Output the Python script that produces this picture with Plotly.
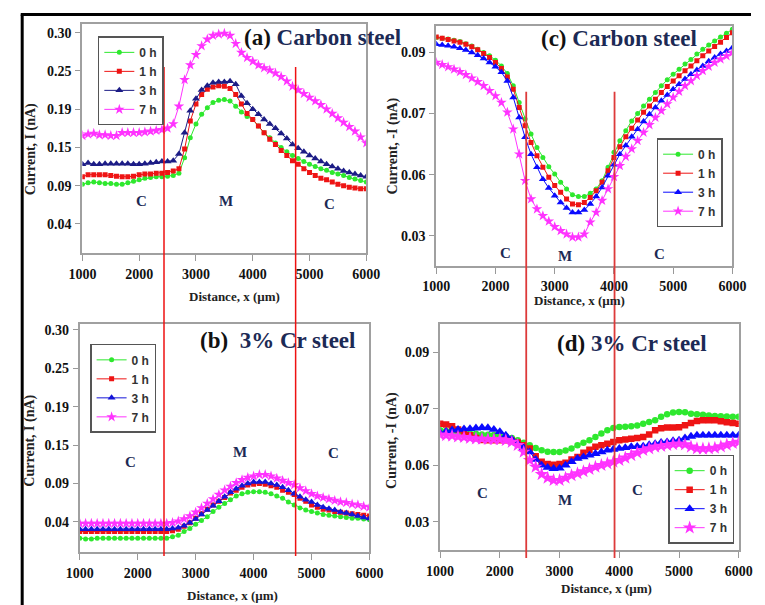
import plotly.graph_objects as go

W, H = 765, 605

DIST = [1000 + 100 * i for i in range(51)]
SERIES_NAMES = ["0 h", "1 h", "3 h", "7 h"]

# (a) Carbon steel, anodic current (axis in visual units; tick labels below)
a_0h = [0.094,0.096,0.097,0.096,0.095,0.095,0.094,0.094,0.096,0.098,
        0.100,0.102,0.103,0.104,0.104,0.105,0.106,0.109,0.130,0.157,
        0.176,0.189,0.198,0.205,0.208,0.209,0.207,0.200,0.192,0.186,
        0.182,0.173,0.164,0.157,0.150,0.144,0.138,0.133,0.129,0.125,
        0.121,0.118,0.115,0.113,0.110,0.108,0.106,0.103,0.101,0.099,
        0.097]
a_1h = [0.104,0.107,0.107,0.107,0.107,0.106,0.105,0.104,0.104,0.105,
        0.107,0.108,0.108,0.109,0.109,0.110,0.112,0.115,0.142,0.180,
        0.203,0.216,0.223,0.226,0.228,0.227,0.224,0.216,0.203,0.190,
        0.182,0.173,0.164,0.155,0.148,0.140,0.133,0.126,0.121,0.115,
        0.110,0.106,0.102,0.100,0.097,0.094,0.092,0.090,0.089,0.088,
        0.088]
a_3h = [0.121,0.123,0.121,0.121,0.122,0.122,0.122,0.122,0.122,0.121,
        0.121,0.122,0.123,0.124,0.125,0.125,0.126,0.135,0.164,0.194,
        0.210,0.222,0.228,0.232,0.233,0.233,0.234,0.230,0.214,0.204,
        0.196,0.189,0.182,0.176,0.170,0.163,0.156,0.148,0.143,0.138,
        0.133,0.129,0.125,0.121,0.118,0.115,0.112,0.110,0.108,0.106,
        0.104]
a_7h = [0.160,0.162,0.163,0.161,0.161,0.160,0.160,0.164,0.164,0.164,
        0.164,0.165,0.166,0.167,0.168,0.170,0.176,0.200,0.236,0.256,
        0.270,0.282,0.291,0.296,0.298,0.299,0.296,0.285,0.273,0.266,
        0.261,0.256,0.252,0.249,0.245,0.240,0.234,0.227,0.222,0.217,
        0.212,0.207,0.202,0.196,0.190,0.184,0.178,0.172,0.166,0.158,
        0.150]

# (b) 3% Cr steel, anodic current
b_0h = [0.018,0.017,0.017,0.018,0.018,0.018,0.018,0.018,0.018,0.018,
        0.018,0.018,0.018,0.018,0.018,0.018,0.020,0.022,0.027,0.031,
        0.037,0.042,0.047,0.054,0.060,0.065,0.070,0.075,0.078,0.080,
        0.081,0.081,0.080,0.078,0.075,0.072,0.067,0.063,0.059,0.056,
        0.054,0.052,0.050,0.049,0.048,0.047,0.046,0.045,0.045,0.044,
        0.043]
b_1h = [0.027,0.027,0.027,0.027,0.027,0.027,0.027,0.027,0.027,0.027,
        0.027,0.027,0.027,0.027,0.027,0.027,0.028,0.030,0.034,0.039,
        0.045,0.051,0.057,0.063,0.068,0.073,0.079,0.083,0.087,0.090,
        0.091,0.092,0.091,0.089,0.087,0.083,0.080,0.077,0.072,0.068,
        0.063,0.060,0.057,0.056,0.054,0.053,0.052,0.051,0.050,0.049,
        0.048]
b_3h = [0.030,0.030,0.030,0.030,0.030,0.030,0.030,0.030,0.030,0.030,
        0.030,0.030,0.030,0.030,0.030,0.030,0.031,0.032,0.035,0.039,
        0.044,0.050,0.056,0.062,0.068,0.074,0.080,0.085,0.089,0.092,
        0.094,0.094,0.094,0.092,0.090,0.087,0.083,0.078,0.074,0.070,
        0.067,0.063,0.060,0.058,0.056,0.0535,0.052,0.050,0.048,0.046,
        0.0445]
b_7h = [0.038,0.038,0.038,0.038,0.038,0.038,0.038,0.038,0.038,0.038,
        0.038,0.038,0.038,0.038,0.038,0.038,0.039,0.041,0.044,0.048,
        0.053,0.059,0.065,0.071,0.077,0.083,0.088,0.093,0.097,0.100,
        0.102,0.104,0.104,0.102,0.099,0.096,0.093,0.090,0.086,0.082,
        0.078,0.075,0.073,0.071,0.069,0.067,0.066,0.064,0.063,0.061,
        0.060]

# (c) Carbon steel, cathodic current
c_0h = [0.0949,0.0947,0.0944,0.0940,0.0936,0.0929,0.0921,0.0911,0.0900,0.0889,
        0.0875,0.0856,0.0831,0.0791,0.0736,0.0682,0.0633,0.0589,0.0556,0.0526,
        0.0502,0.0475,0.0453,0.0434,0.0428,0.0428,0.0439,0.0453,0.0480,0.0524,
        0.0573,0.0611,0.0644,0.0676,0.0700,0.0725,0.0747,0.0769,0.0791,0.0811,
        0.0829,0.0845,0.0862,0.0877,0.0895,0.0911,0.0925,0.0938,0.0951,0.0963,
        0.0976]
c_1h = [0.0951,0.0947,0.0943,0.0938,0.0934,0.0927,0.0919,0.0909,0.0897,0.0884,
        0.0867,0.0848,0.0820,0.0780,0.0720,0.0660,0.0605,0.0562,0.0524,0.0491,
        0.0464,0.0442,0.0420,0.0404,0.0401,0.0409,0.0425,0.0447,0.0475,0.0513,
        0.0556,0.0591,0.0624,0.0652,0.0679,0.0704,0.0725,0.0747,0.0769,0.0789,
        0.0807,0.0824,0.0840,0.0856,0.0873,0.0889,0.0905,0.0920,0.0934,0.0949,
        0.0965]
c_3h = [0.0927,0.0925,0.0922,0.0919,0.0914,0.0908,0.0900,0.0891,0.0880,0.0867,
        0.0853,0.0835,0.0807,0.0753,0.0687,0.0622,0.0567,0.0524,0.0485,0.0456,
        0.0431,0.0409,0.0391,0.0376,0.0376,0.0384,0.0404,0.0428,0.0458,0.0496,
        0.0532,0.0567,0.0595,0.0624,0.0649,0.0674,0.0698,0.0720,0.0742,0.0761,
        0.0780,0.0796,0.0813,0.0829,0.0843,0.0856,0.0871,0.0884,0.0895,0.0905,
        0.0916]
c_7h = [0.0867,0.0860,0.0853,0.0845,0.0837,0.0827,0.0816,0.0804,0.0791,0.0775,
        0.0758,0.0736,0.0704,0.0649,0.0567,0.0480,0.0420,0.0387,0.0365,0.0347,
        0.0329,0.0316,0.0305,0.0295,0.0295,0.0305,0.0344,0.0376,0.0415,0.0453,
        0.0493,0.0529,0.0559,0.0584,0.0611,0.0638,0.0663,0.0687,0.0709,0.0731,
        0.0753,0.0772,0.0791,0.0807,0.0824,0.0840,0.0854,0.0867,0.0878,0.0889,
        0.0900]

# (d) 3% Cr steel, cathodic current
d_0h = [0.0624,0.0621,0.0619,0.0616,0.0614,0.0612,0.0611,0.0609,0.0608,0.0607,
        0.0606,0.0602,0.0596,0.0588,0.0579,0.0571,0.0561,0.0553,0.0548,0.0547,
        0.0547,0.0552,0.0559,0.0571,0.0579,0.0588,0.0600,0.0612,0.0624,0.0632,
        0.0635,0.0636,0.0638,0.0640,0.0647,0.0653,0.0659,0.0671,0.0680,0.0686,
        0.0688,0.0687,0.0682,0.0680,0.0678,0.0676,0.0674,0.0673,0.0672,0.0671,
        0.0671]
d_1h = [0.0647,0.0644,0.0638,0.0626,0.0614,0.0606,0.0596,0.0589,0.0588,0.0588,
        0.0588,0.0588,0.0587,0.0580,0.0571,0.0559,0.0532,0.0512,0.0504,0.0502,
        0.0504,0.0509,0.0520,0.0529,0.0544,0.0555,0.0565,0.0571,0.0576,0.0582,
        0.0588,0.0591,0.0594,0.0596,0.0600,0.0609,0.0624,0.0631,0.0633,0.0633,
        0.0634,0.0641,0.0649,0.0656,0.0659,0.0659,0.0659,0.0655,0.0652,0.0649,
        0.0647]
d_3h = [0.0614,0.0619,0.0624,0.0626,0.0628,0.0629,0.0631,0.0633,0.0632,0.0626,
        0.0618,0.0606,0.0592,0.0576,0.0562,0.0547,0.0520,0.0500,0.0492,0.0488,
        0.0489,0.0500,0.0512,0.0524,0.0529,0.0535,0.0541,0.0547,0.0553,0.0556,
        0.0559,0.0562,0.0565,0.0566,0.0567,0.0572,0.0576,0.0580,0.0582,0.0586,
        0.0588,0.0596,0.0602,0.0606,0.0606,0.0606,0.0606,0.0606,0.0606,0.0606,
        0.0606]
d_7h = [0.0608,0.0606,0.0604,0.0601,0.0599,0.0596,0.0594,0.0593,0.0592,0.0591,
        0.0591,0.0588,0.0582,0.0571,0.0547,0.0518,0.0494,0.0468,0.0455,0.0447,
        0.0447,0.0455,0.0464,0.0471,0.0478,0.0486,0.0494,0.0500,0.0506,0.0512,
        0.0518,0.0526,0.0535,0.0544,0.0553,0.0559,0.0565,0.0568,0.0571,0.0574,
        0.0576,0.0573,0.0565,0.0559,0.0558,0.0559,0.0561,0.0566,0.0572,0.0578,
        0.0582]

# axis tick positions (visual, evenly spaced) and their printed labels
X_TICKS = [1000, 2000, 3000, 4000, 5000, 6000]
LEFT_TICKVALS = [0.04, 0.092, 0.144, 0.196, 0.248, 0.30]
LEFT_TICKTEXT = ["0.04", "0.09", "0.15", "0.19", "0.25", "0.30"]
RIGHT_TICKVALS = [0.03, 0.05, 0.07, 0.09]
RIGHT_TICKTEXT = ["0.03", "0.06", "0.07", "0.09"]

# microstructure boundaries (µm)
BOUND_LEFT = [2437, 4755]
BOUND_RIGHT = [2519, 4010]

SERIF = "Liberation Serif"
NAVY = "#1c2a55"
GREEN, RED, MAG = "#2ee82e", "#ee1414", "#ff33ff"

def px_x(p):
    return p / W

def px_y(p):
    return 1 - p / H

fig = go.Figure()

panels = [
    dict(key="", data=[a_0h, a_1h, a_3h, a_7h], blue="#1c1c86", legend="legend"),
    dict(key="2", data=[b_0h, b_1h, b_3h, b_7h], blue="#1414d8", legend="legend2"),
    dict(key="3", data=[c_0h, c_1h, c_3h, c_7h], blue="#0a0aff", legend="legend3"),
    dict(key="4", data=[d_0h, d_1h, d_3h, d_7h], blue="#0a0aff", legend="legend4"),
]

big = {"4": 1.3}
for p in panels:
    k = p["key"]
    s = big.get(k, 1.0)
    styles = [
        (GREEN, "circle", 5 * s),
        (RED, "square", 5 * s),
        (p["blue"], "triangle-up", 7 * s),
        (MAG, "star", 8 * s),
    ]
    for name, ys, (col, sym, sz) in zip(SERIES_NAMES, p["data"], styles):
        fig.add_trace(go.Scatter(
            x=DIST, y=ys, name=name, mode="lines+markers",
            line=dict(color=col, width=1),
            marker=dict(color=col, symbol=sym, size=sz, line=dict(width=0)),
            xaxis="x" + k, yaxis="y" + k, legend=p["legend"],
        ))

tickfont_y = dict(family=SERIF, size=14, color="#111", weight=700)
tickfont_x = dict(family=SERIF, size=14, color="#111", weight=700)

def xaxis(domain, anchor):
    return dict(domain=domain, anchor=anchor, range=[1000, 6000], tickvals=X_TICKS,
                ticks="outside", ticklen=6, tickcolor="#999", tickwidth=1,
                showline=True, linecolor="#a0a0a0", linewidth=2, mirror=True,
                showgrid=False, zeroline=False, tickfont=tickfont_x,
                ticklabelstandoff=1)

def yaxis(domain, anchor, rng, tv, tt):
    return dict(domain=domain, anchor=anchor, range=rng, tickvals=tv, ticktext=tt,
                ticks="outside", ticklen=5, tickcolor="#999", tickwidth=1,
                showline=True, linecolor="#a0a0a0", linewidth=2, mirror=True,
                showgrid=False, zeroline=False, tickfont=tickfont_y,
                ticklabelstandoff=1)

fig.update_layout(
    xaxis=xaxis([px_x(71), px_x(365.7)], "y"),
    yaxis=yaxis([px_y(252.3), px_y(23.3)], "x", [0.0007, 0.3114], LEFT_TICKVALS, LEFT_TICKTEXT),
    xaxis2=xaxis([px_x(68.3), px_x(369)], "y2"),
    yaxis2=yaxis([px_y(551.7), px_y(323.3)], "x2", [-0.0004, 0.3081], LEFT_TICKVALS, LEFT_TICKTEXT),
    xaxis3=xaxis([px_x(438.3), px_x(745.7)], "y3"),
    yaxis3=yaxis([px_y(265), px_y(25)], "x3", [0.0202, 0.0987], RIGHT_TICKVALS, RIGHT_TICKTEXT),
    xaxis4=xaxis([px_x(442.3), px_x(752.3)], "y4"),
    yaxis4=yaxis([px_y(550), px_y(323.3)], "x4", [0.0200, 0.1000], RIGHT_TICKVALS, RIGHT_TICKTEXT),
)

leg_common = dict(bgcolor="white", bordercolor="#555", borderwidth=1.5,
                  font=dict(family="Liberation Sans", size=12, color="#333", weight=700),
                  xanchor="left", yanchor="middle", tracegroupgap=0, itemwidth=30)
fig.update_layout(
    legend=dict(x=px_x(87), y=px_y(80), **leg_common),
    legend2=dict(x=px_x(79), y=px_y(388), **leg_common),
    legend3=dict(x=px_x(667), y=px_y(182), **leg_common),
    legend4=dict(x=px_x(679), y=px_y(499), **leg_common),
)

shapes = []
for xv in BOUND_LEFT:
    shapes.append(dict(type="line", xref="x", yref="paper", x0=xv, x1=xv,
                       y0=px_y(556), y1=px_y(66), line=dict(color="#ee1111", width=1.5)))
for xv in BOUND_RIGHT:
    shapes.append(dict(type="line", xref="x3", yref="paper", x0=xv, x1=xv,
                       y0=px_y(558), y1=px_y(91), line=dict(color="#dd3a3a", width=1.8)))
# outer frame
shapes.append(dict(type="line", xref="paper", yref="paper", x0=px_x(8.5), x1=px_x(8.5),
                   y0=0, y1=px_y(13.5), line=dict(color="black", width=3)))
shapes.append(dict(type="line", xref="paper", yref="paper", x0=px_x(7), x1=1,
                   y0=px_y(13.5), y1=px_y(13.5), line=dict(color="black", width=3)))
fig.update_layout(shapes=shapes)

ann = []
def add_text(text, x, y, size, color=NAVY, angle=0, family=SERIF):
    ann.append(dict(text=text, x=px_x(x), y=px_y(y), xref="paper", yref="paper",
                    showarrow=False, xanchor="center", yanchor="middle",
                    textangle=angle, font=dict(family=family, size=size, color=color, weight=700)))

# panel titles
add_text('<span style="color:#111">(a)</span> Carbon steel', 320, 37, 23)
add_text('<span style="color:#111">(c)</span> Carbon steel', 628, 38, 23)
add_text('<span style="color:#111">(b)</span>  3% Cr steel', 273, 340, 23)
add_text('<span style="color:#111">(d)</span> 3% Cr steel', 641, 343, 23)

# region labels
for t, x, y in [("C", 132, 200), ("M", 220, 200), ("C", 327, 203),
                ("C", 510, 252), ("M", 572, 255), ("C", 670, 253),
                ("C", 121, 462), ("M", 235, 452), ("C", 332, 453),
                ("C", 486, 493), ("M", 572, 500), ("C", 647, 490)]:
    add_text(t, x, y, 15)

# axis titles
for x, y in [(229, 296), (227, 595), (587, 300), (615, 588)]:
    add_text("Distance, x (µm)", x, y, 13, color="#222")
add_text("Current, I (nA)", 17, 148, 14, color="#222", angle=-90)
add_text("Current, I (nA)", 17, 440, 14, color="#222", angle=-90)
add_text("Current, -I (nA)", 393, 145, 14, color="#222", angle=-90)
add_text("Current, -I (nA)", 393, 440, 14, color="#222", angle=-90)
fig.update_layout(annotations=ann)

fig.update_layout(width=W, height=H, margin=dict(l=0, r=0, t=0, b=0),
                  paper_bgcolor="white", plot_bgcolor="white", showlegend=True)

fig.write_html("out.html")
